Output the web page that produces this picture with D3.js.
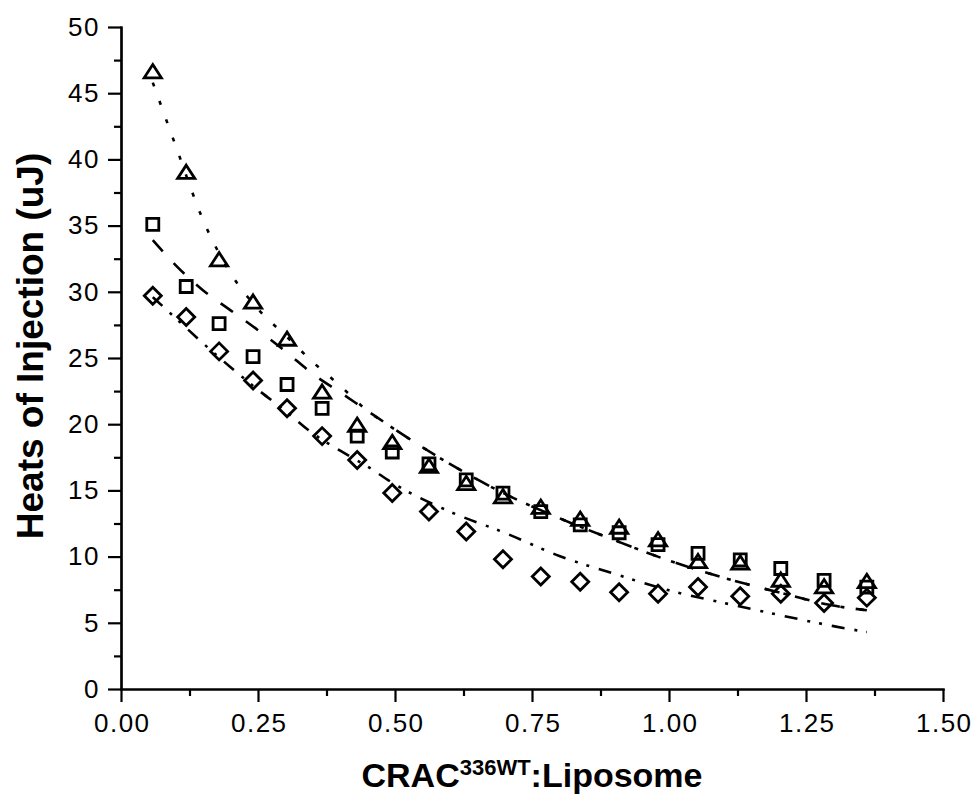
<!DOCTYPE html>
<html>
<head>
<meta charset="utf-8">
<script src="https://cdn.jsdelivr.net/npm/d3@7"></script>
<style>
    body { margin: 0; background: #fff; }
    svg text { font-family: "Liberation Sans", Arial, sans-serif; fill: #000; }
    .axis path, .axis line { stroke: #000; stroke-width: 2.2; }
    .axis text { font-size: 26px; letter-spacing: 1.5px; }
</style>
</head>
<body>
<div id="chart"></div>
<script>
// ratio values where the injections were read
var ratio = [0.058, 0.119, 0.179, 0.241, 0.303, 0.367, 0.431, 0.495, 0.562, 0.630,
             0.697, 0.766, 0.838, 0.909, 0.980, 1.053, 1.130, 1.204, 1.283, 1.361];

// heats of injection (uJ), three data sets
var heatsTriangle = [46.6, 39.0, 32.4, 29.2, 26.4, 22.4, 19.9, 18.6, 16.8, 15.5,
                     14.5, 13.7, 12.8, 12.2, 11.25, 9.6, 9.5, 8.2, 7.7, 8.1];
var heatsSquare = [35.1, 30.4, 27.6, 25.1, 23.0, 21.2, 19.1, 17.9, 17.0, 15.8,
                   14.8, 13.4, 12.4, 11.8, 10.9, 10.25, 9.75, 9.1, 8.2, 7.7];
var heatsDiamond = [29.7, 28.1, 25.5, 23.3, 21.2, 19.1, 17.3, 14.8, 13.4, 11.9,
                    9.8, 8.5, 8.1, 7.3, 7.2, 7.7, 7.0, 7.2, 6.5, 6.9];

// fitted curves
var fitRatio = [0.058, 0.10, 0.15, 0.20, 0.25, 0.30, 0.35, 0.40, 0.45, 0.50,
                0.60, 0.70, 0.80, 0.90, 1.00, 1.10, 1.20, 1.30, 1.361];
var fitTriangle = [45.8, 41.0, 35.4, 31.4, 28.7, 26.7, 24.7, 22.9, 21.0, 19.6,
                   17.0, 14.75, 12.9, 11.25, 9.7, 8.4, 7.3, 6.3, 5.95];
var fitSquare = [33.9, 32.0, 30.1, 28.6, 27.1, 25.5, 23.8, 22.4, 21.0, 19.6,
                 17.0, 14.75, 12.9, 11.25, 9.7, 8.4, 7.3, 6.3, 5.95];
var fitDiamond = [29.6, 28.0, 26.1, 24.3, 22.6, 21.0, 19.3, 18.0, 16.8, 15.45,
                  13.4, 11.8, 10.05, 8.7, 7.45, 6.5, 5.6, 4.75, 4.3];

// ticks
var xTicks = [0, 0.25, 0.5, 0.75, 1.0, 1.25, 1.5];
var xMinorTicks = [0.125, 0.375, 0.625, 0.875, 1.125, 1.375];
var yTicks = [0, 5, 10, 15, 20, 25, 30, 35, 40, 45, 50];
var yMinorTicks = [2.5, 7.5, 12.5, 17.5, 22.5, 27.5, 32.5, 37.5, 42.5, 47.5];

var width = 975, height = 800;
var margin = {top: 27, right: 32, bottom: 111, left: 121};
var innerW = width - margin.left - margin.right;
var innerH = height - margin.top - margin.bottom;

var svg = d3.select("#chart")
    .append("svg")
    .attr("width", width)
    .attr("height", height)
    .append("g")
    .attr("transform", "translate(" + margin.left + "," + margin.top + ")");

var xScale = d3.scaleLinear().domain([0, 1.5]).range([0, innerW]);
var yScale = d3.scaleLinear().domain([0, 50]).range([innerH, 0]);

// minor ticks first, then major axes on top
svg.append("g")
    .attr("class", "axis")
    .attr("transform", "translate(0," + innerH + ")")
    .call(d3.axisBottom(xScale).tickValues(xMinorTicks).tickSize(7).tickSizeOuter(0).tickFormat(""));

svg.append("g")
    .attr("class", "axis")
    .call(d3.axisLeft(yScale).tickValues(yMinorTicks).tickSize(7).tickSizeOuter(0).tickFormat(""));

var xAxis = svg.append("g")
    .attr("class", "axis")
    .attr("transform", "translate(0," + innerH + ")")
    .call(d3.axisBottom(xScale).tickValues(xTicks).tickSize(13).tickSizeOuter(0)
        .tickPadding(12).tickFormat(d3.format(".2f")));

// shift by half the trailing letter spacing so labels stay centred
xAxis.selectAll("text").attr("dx", 0.75);

var yAxis = svg.append("g")
    .attr("class", "axis")
    .call(d3.axisLeft(yScale).tickValues(yTicks).tickSize(13).tickSizeOuter(0)
        .tickPadding(8).tickFormat(d3.format("d")));

svg.selectAll(".axis path.domain").attr("stroke-linecap", "square");

// axis titles
svg.append("text")
    .attr("text-anchor", "middle")
    .attr("transform", "translate(" + (43 - margin.left) + "," + (346 - margin.top) + ")rotate(-90)")
    .style("font-size", "37px")
    .style("font-weight", "bold")
    .text("Heats of Injection (uJ)");

var xTitle = svg.append("text")
    .attr("text-anchor", "middle")
    .attr("x", innerW / 2)
    .attr("y", 787 - margin.top)
    .style("font-size", "34px")
    .style("font-weight", "bold");
xTitle.append("tspan").text("CRAC");
xTitle.append("tspan").attr("dy", -12).style("font-size", "22px").text("336WT");
xTitle.append("tspan").attr("dy", 12).text(":Liposome");

// fitted curves
var fits = [
    {values: fitTriangle, dash: "4,15.5"},
    {values: fitSquare, dash: "15,16"},
    {values: fitDiamond, dash: "13,10,3,9,3,10"}
];

var line = d3.line()
    .x(function(d, i) { return xScale(fitRatio[i]); })
    .y(function(d) { return yScale(d); })
    .curve(d3.curveMonotoneX);

svg.selectAll(".fit")
    .data(fits)
    .enter().append("path")
    .attr("class", "fit")
    .attr("fill", "none")
    .attr("stroke", "#000")
    .attr("stroke-width", 2.6)
    .attr("stroke-dasharray", function(d) { return d.dash; })
    .attr("d", function(d) { return line(d.values); });

// marker shapes, open black outlines
var triangleType = {
    draw: function(context, size) {
        context.moveTo(0, -7.5);
        context.lineTo(8.6, 5.8);
        context.lineTo(-8.6, 5.8);
        context.closePath();
    }
};
var diamondType = {
    draw: function(context, size) {
        context.moveTo(0, -8.5);
        context.lineTo(8.5, 0);
        context.lineTo(0, 8.5);
        context.lineTo(-8.5, 0);
        context.closePath();
    }
};

var series = [
    {values: heatsSquare, symbol: d3.symbol().type(d3.symbolSquare).size(144)},
    {values: heatsTriangle, symbol: d3.symbol().type(triangleType)},
    {values: heatsDiamond, symbol: d3.symbol().type(diamondType)}
];

series.forEach(function(s) {
    svg.append("g").selectAll("path")
        .data(s.values)
        .enter().append("path")
        .attr("transform", function(d, i) {
            return "translate(" + xScale(ratio[i]) + "," + yScale(d) + ")";
        })
        .attr("d", s.symbol)
        .attr("fill", "none")
        .attr("stroke", "#000")
        .attr("stroke-width", 2.8)
        .attr("stroke-linejoin", "miter");
});
</script>
</body>
</html>
